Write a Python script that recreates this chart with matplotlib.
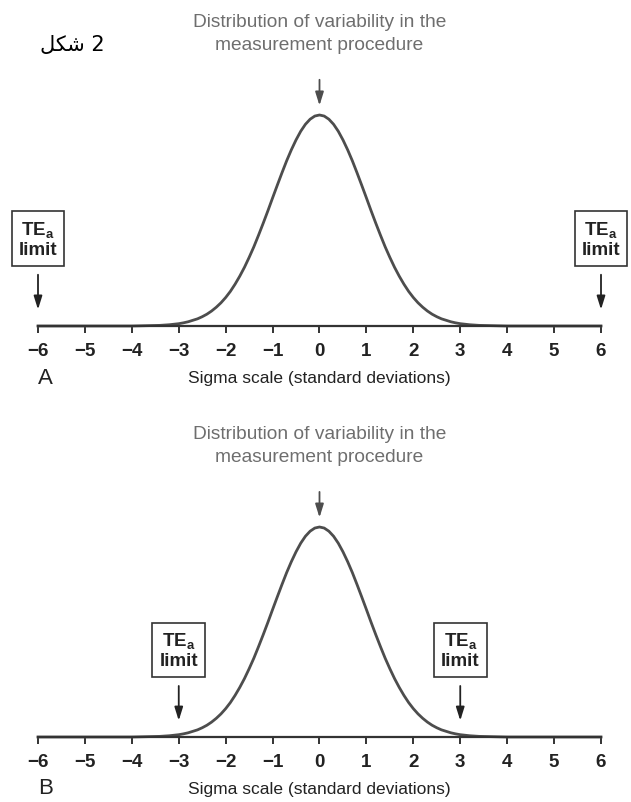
import numpy as np
import matplotlib
matplotlib.use("Agg")
import matplotlib.pyplot as plt

plt.rcParams['font.family'] = ['Liberation Sans', 'DejaVu Sans']
plt.rcParams['mathtext.fontset'] = 'custom'
plt.rcParams['mathtext.rm'] = 'Liberation Sans'
plt.rcParams['mathtext.bf'] = 'Liberation Sans:bold'

# curve heights (peak = 1), right half; mirrored for the left
half_x = [0.0, 0.1, 0.2, 0.3, 0.4, 0.5, 0.6, 0.7, 0.8, 0.9, 1.0, 1.1, 1.2, 1.3,
          1.4, 1.5, 1.6, 1.7, 1.8, 1.9, 2.0, 2.1, 2.2, 2.3, 2.4, 2.5, 2.6, 2.7,
          2.8, 2.9, 3.0, 3.2, 3.4, 3.6, 3.8, 4.0, 6.0]
half_y = [1.000, 0.995, 0.980, 0.956, 0.923, 0.882, 0.835, 0.783, 0.726, 0.667,
          0.607, 0.546, 0.487, 0.430, 0.375, 0.325, 0.278, 0.236, 0.198, 0.164,
          0.135, 0.110, 0.089, 0.071, 0.056, 0.044, 0.034, 0.027, 0.020, 0.015,
          0.011, 0.006, 0.003, 0.002, 0.001, 0.000, 0.000]

ticks = [-6, -5, -4, -3, -2, -1, 0, 1, 2, 3, 4, 5, 6]
limits_a = [-6, 6]
limits_b = [-3, 3]
panel_labels = ['A', 'B']
xlabel = 'Sigma scale (standard deviations)'
dist_label = 'Distribution of variability in the\nmeasurement procedure'
limit_label = '$\\mathbf{TE_a}$\nlimit'
fig_label = '\uFEDE\uFEDC\uFEB7 2'  # شكل 2

hx = np.array(half_x)
hy = np.array(half_y)
cx = np.concatenate([-hx[::-1], hx[1:]])
cy = np.concatenate([hy[::-1], hy[1:]])

W, H = 631, 802
fig = plt.figure(figsize=(W / 100, H / 100), dpi=100)

curve_c = '#4d4d4d'
axis_c = '#333333'
text_c = '#6e6e6e'
arrow_style = '-|>,head_length=0.8,head_width=0.25'


def panel(base_px, peak_px, lims, label):
    ax = fig.add_axes([38 / W, (H - base_px) / H, 563 / W, (base_px - peak_px) / H])
    ax.plot(cx, cy, color=curve_c, lw=2.0, solid_joinstyle='round', clip_on=False)
    ax.set_xlim(-6, 6)
    ax.set_ylim(0, 1)
    for s in ['top', 'right', 'left']:
        ax.spines[s].set_visible(False)
    ax.spines['bottom'].set_color(axis_c)
    ax.spines['bottom'].set_linewidth(1.6)
    ax.set_yticks([])
    ax.set_xticks(ticks)
    ax.tick_params(axis='x', direction='out', length=5, width=1.4, color=axis_c,
                   labelsize=13.5, pad=7)
    for t in ax.get_xticklabels():
        t.set_fontweight('bold')
        t.set_color('#222222')
    ax.set_xlabel(xlabel, fontsize=12.5, color='#222222', labelpad=8)

    # distribution annotation
    ax.text(0, 1.385, dist_label, ha='center', va='center', fontsize=13.8,
            color=text_c, linespacing=1.45)
    ax.annotate('', xy=(0, 1.045), xytext=(0, 1.167), annotation_clip=False,
                arrowprops=dict(arrowstyle=arrow_style,
                                color=curve_c, lw=1.3, shrinkA=0, shrinkB=0))

    # TEa limit boxes
    for lx in lims:
        ax.text(lx, 0.412, limit_label, ha='center', va='center', fontsize=13.5,
                fontweight='bold', color='#222222', linespacing=1.15,
                bbox=dict(boxstyle='square,pad=0.38', fc='white', ec=axis_c, lw=1.2))
        ax.annotate('', xy=(lx, 0.078), xytext=(lx, 0.243), annotation_clip=False,
                    arrowprops=dict(arrowstyle=arrow_style,
                                    color='#222222', lw=1.3, shrinkA=0, shrinkB=0))

    fig.text(38 / W, 1 - (base_px + 52) / H, label, fontsize=16, color='#222222',
             ha='left', va='center')
    return ax


panel(326, 115, limits_a, panel_labels[0])
panel(737, 527, limits_b, panel_labels[1])

fig.text(40 / W, 1 - 45 / H, fig_label, fontsize=15, family=['DejaVu Sans'],
         ha='left', va='center', color='black')

fig.savefig('out.png', dpi=100)
